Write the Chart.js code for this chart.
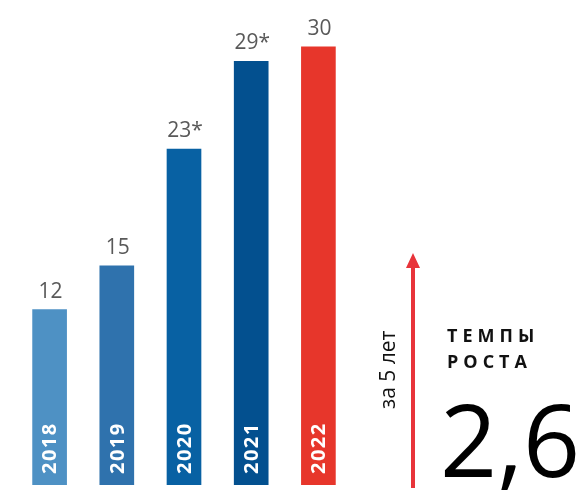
<!DOCTYPE html>
<html>
<head>
<meta charset="utf-8">
<script src="https://cdn.jsdelivr.net/npm/chart.js@4"></script>
<style>
  html, body { margin: 0; padding: 0; background: #fff; }
  #wrap { width: 585px; height: 493px; position: relative; }
</style>
</head>
<body>
<div id="wrap"><canvas id="myChart"></canvas></div>
<script>
// données
const years = ["2018", "2019", "2020", "2021", "2022"];
const values = [12, 15, 23, 29, 30];
const valueLabels = ["12", "15", "23*", "29*", "30"];
const barColors = ["#4e91c4", "#2f72ad", "#0861a3", "#03508f", "#e7362b"];
const sideText = ["ТЕМПЫ", "РОСТА"];
const sideSub = "за 5 лет";
const growth = "2,6";

// étiquettes au-dessus des barres + années dans les barres
const barLabels = {
  id: "barLabels",
  afterDatasetsDraw(chart) {
    const ctx = chart.ctx;
    const meta = chart.getDatasetMeta(0);
    meta.data.forEach((bar, i) => {
      ctx.save();
      ctx.fillStyle = "#595959";
      ctx.font = '21px "Open Sans"';
      ctx.textAlign = "center";
      ctx.textBaseline = "alphabetic";
      ctx.fillText(valueLabels[i], bar.x + 1, bar.y - 12);
      ctx.restore();

      ctx.save();
      ctx.translate(bar.x + 1, 474);
      ctx.rotate(-Math.PI / 2);
      ctx.fillStyle = "#ffffff";
      ctx.font = 'bold 20px "Open Sans"';
      ctx.letterSpacing = "1.5px";
      ctx.textAlign = "left";
      ctx.textBaseline = "middle";
      ctx.fillText(years[i], 0, 0);
      ctx.restore();
    });
  }
};

// flèche et texte à droite
const sidePanel = {
  id: "sidePanel",
  afterDraw(chart) {
    const ctx = chart.ctx;
    ctx.save();
    // flèche
    ctx.strokeStyle = "#e8343a";
    ctx.fillStyle = "#e8343a";
    ctx.lineWidth = 4;
    ctx.beginPath();
    ctx.moveTo(413, 488);
    ctx.lineTo(413, 264);
    ctx.stroke();
    ctx.beginPath();
    ctx.moveTo(413, 253);
    ctx.lineTo(420, 268);
    ctx.lineTo(406, 268);
    ctx.closePath();
    ctx.fill();

    // за 5 лет
    ctx.save();
    ctx.translate(389, 409);
    ctx.rotate(-Math.PI / 2);
    ctx.fillStyle = "#111";
    ctx.font = '21px "Open Sans"';
    ctx.textAlign = "left";
    ctx.textBaseline = "middle";
    ctx.fillText(sideSub, 0, 0);
    ctx.restore();

    // ТЕМПЫ РОСТА
    ctx.fillStyle = "#111";
    ctx.font = 'bold 18px "Open Sans"';
    ctx.letterSpacing = "5px";
    ctx.textAlign = "left";
    ctx.textBaseline = "alphabetic";
    ctx.fillText(sideText[0], 447, 342);
    ctx.fillText(sideText[1], 447, 368);

    // 2,6
    ctx.letterSpacing = "0px";
    ctx.fillStyle = "#000";
    ctx.font = '100px "Open Sans"';
    ctx.fillText(growth, 440, 477);
    ctx.restore();
  }
};

const ctx = document.getElementById("myChart").getContext("2d");
const myChart = new Chart(ctx, {
  type: "bar",
  data: {
    labels: years,
    datasets: [{
      data: values,
      backgroundColor: barColors,
      borderWidth: 0,
      barThickness: 34
    }]
  },
  options: {
    responsive: true,
    maintainAspectRatio: false,
    animation: false,
    layout: {
      padding: { left: 16, right: 233, top: 0, bottom: 8 }
    },
    plugins: {
      legend: { display: false },
      tooltip: { enabled: false }
    },
    scales: {
      x: { display: false },
      y: { display: false, min: 0, max: 33.2 }
    }
  },
  plugins: [barLabels, sidePanel]
});
</script>
</body>
</html>
